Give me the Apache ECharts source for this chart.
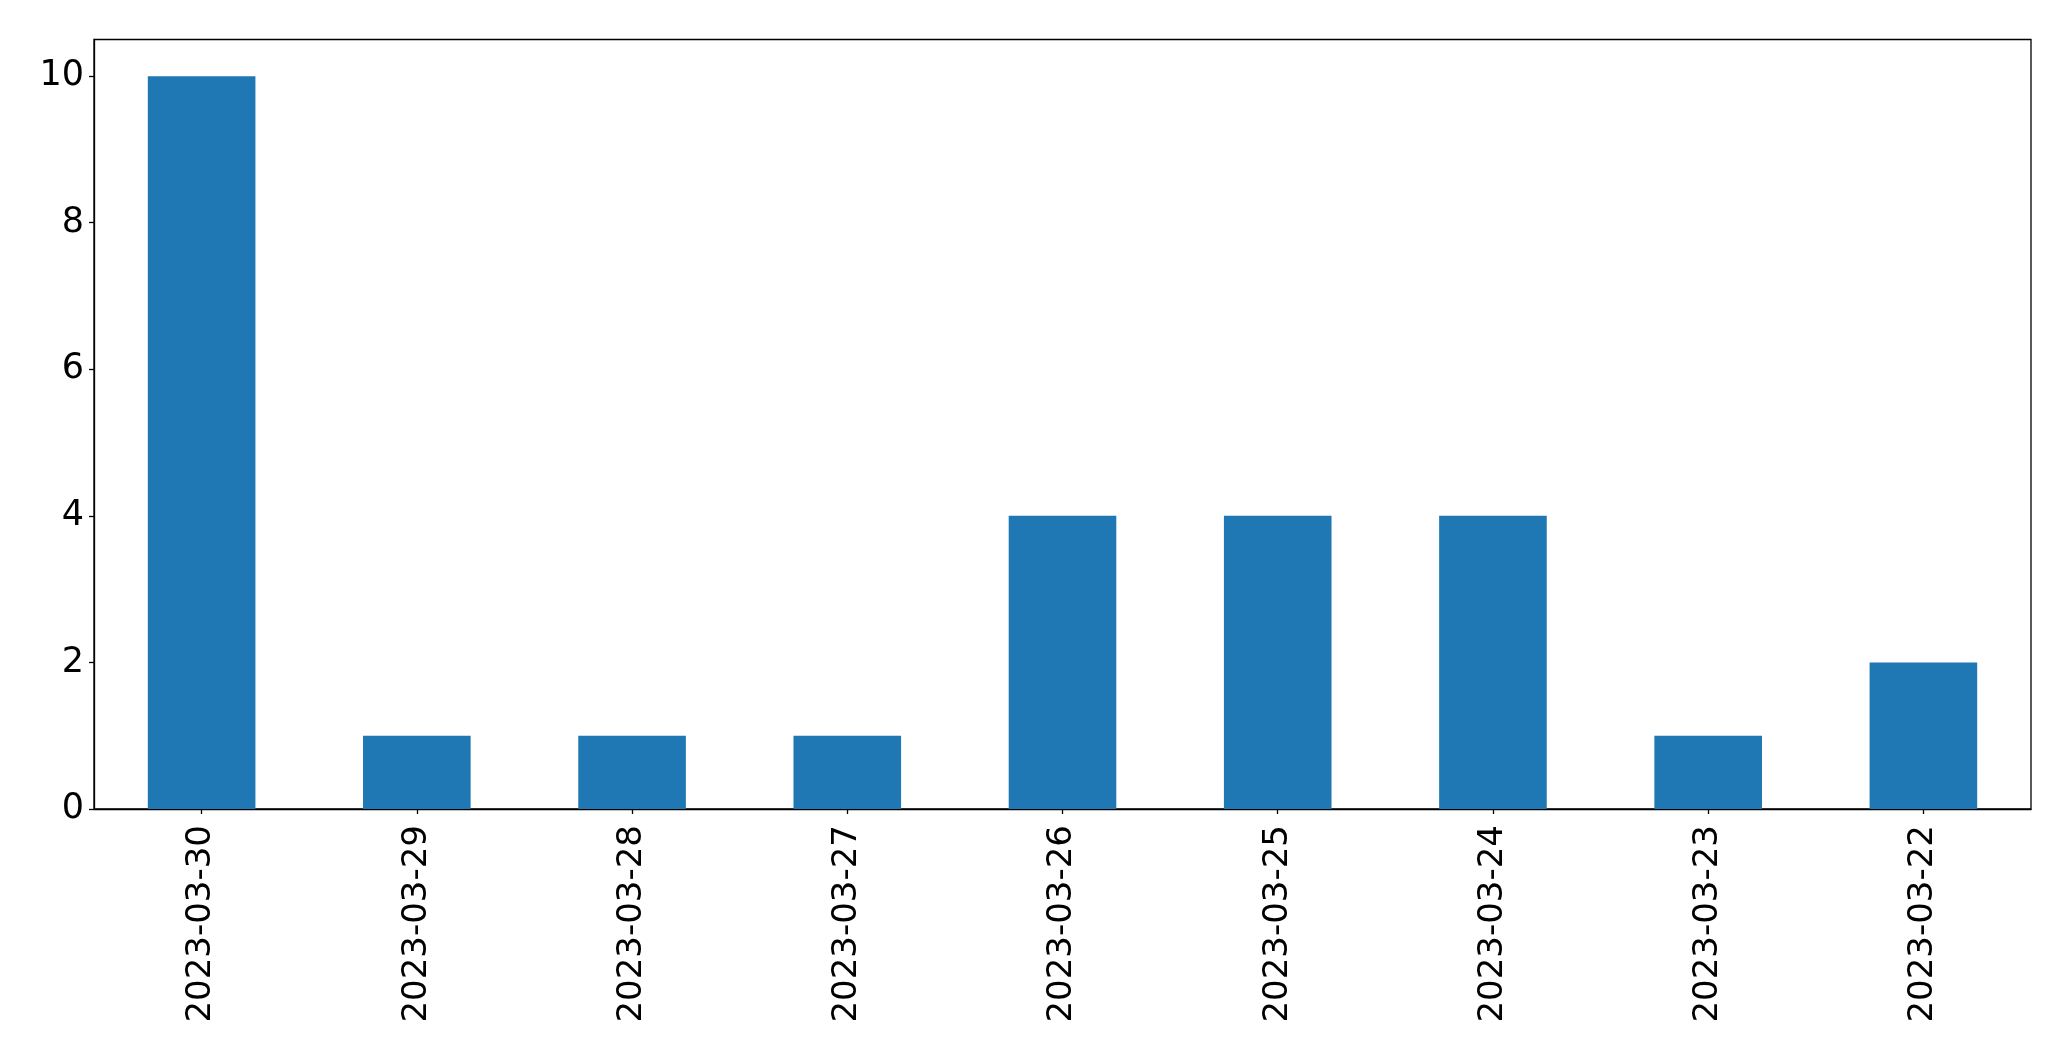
<!DOCTYPE html>
<html>
<head>
<meta charset="utf-8">
<script src="https://cdn.jsdelivr.net/npm/echarts@6/dist/echarts.min.js"></script>
<style>
html,body{margin:0;padding:0;background:#fff;}
#chart{width:2071px;height:1061px;}
</style>
</head>
<body>
<div id="chart"></div>
<script>
const categories = ["2023-03-30","2023-03-29","2023-03-28","2023-03-27","2023-03-26","2023-03-25","2023-03-24","2023-03-23","2023-03-22"];
const values = [10, 1, 1, 1, 4, 4, 4, 1, 2];
const yTicks = [0, 2, 4, 6, 8, 10];

const chart = echarts.init(document.getElementById('chart'), null, {renderer: 'canvas'});
const font = '"DejaVu Sans", sans-serif';
chart.setOption({
  animation: false,
  backgroundColor: '#ffffff',
  grid: {
    left: 94, right: 40, top: 39.5, bottom: 252,
    show: true, borderColor: '#000', borderWidth: 1.3, backgroundColor: 'transparent'
  },
  xAxis: {
    type: 'category',
    data: categories,
    boundaryGap: true,
    axisLine: {show: true, lineStyle: {color: '#000', width: 1.3}},
    axisTick: {show: true, alignWithLabel: true, length: 5, lineStyle: {color: '#000', width: 1.3}},
    axisLabel: {rotate: 90, fontSize: 34, color: '#000', fontFamily: font, margin: 16, interval: 0},
    splitLine: {show: false}
  },
  yAxis: {
    type: 'value',
    min: 0, max: 10.5, interval: 2,
    axisLine: {show: true, lineStyle: {color: '#000', width: 1.3}},
    axisTick: {show: true, length: 5, customValues: yTicks, lineStyle: {color: '#000', width: 1.3}},
    axisLabel: {fontSize: 35, color: '#000', fontFamily: font, margin: 10, customValues: yTicks},
    splitLine: {show: false}
  },
  series: [{
    type: 'bar',
    data: values,
    barWidth: '50%',
    itemStyle: {color: '#1f77b4'}
  }]
});
</script>
</body>
</html>
